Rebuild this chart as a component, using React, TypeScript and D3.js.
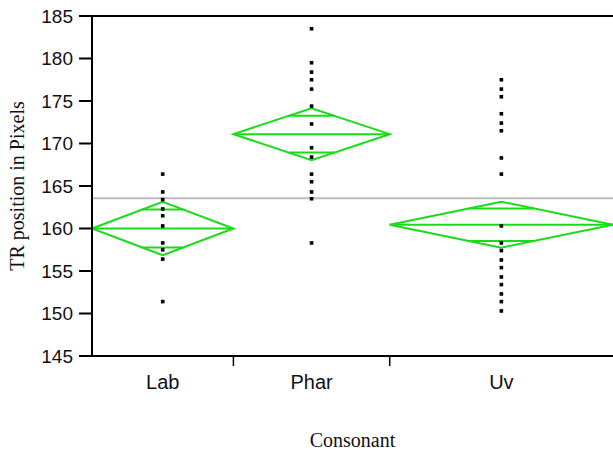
import React from 'react';
import * as d3 from 'd3';

// groups, sample sizes (set the column widths) and diamond stats
const categories = ['Lab', 'Phar', 'Uv'];
const groupN = [19, 21, 30];
const groupMeans = [160.0, 171.1, 160.45];
const ciHalf = [3.15, 3.05, 2.7];
const grandMean = 163.55;

const labPoints = [166.4, 164.3, 163.4, 162.3, 161.5, 160.3, 158.3, 157.5, 156.4, 151.4];
const pharPoints = [183.5, 179.5, 178.4, 177.5, 176.4, 174.4, 172.3, 169.5, 168.4, 166.4, 165.5, 164.3, 163.5, 158.3];
const uvPoints = [177.5, 176.4, 175.5, 173.5, 172.4, 171.5, 168.3, 166.4, 160.3, 158.3, 157.4, 156.3, 155.4, 154.3, 153.4, 152.3, 151.4, 150.3];
const groupPoints = [labPoints, pharPoints, uvPoints];

const yTicks = [145, 150, 155, 160, 165, 170, 175, 180, 185];

const W = 613;
const H = 455;
const margin = { top: 16, right: 0, bottom: 99, left: 92 };
const green = '#19dc19';
const sans = '"Liberation Sans", Arial, Helvetica, sans-serif';
const serif = '"Liberation Serif", "Times New Roman", serif';

const App: React.FC = () => {
  const y = d3.scaleLinear().domain([145, 185]).range([H - margin.bottom, margin.top]);
  const total = d3.sum(groupN);
  const x = d3.scaleLinear().domain([0, total]).range([margin.left, W - margin.right]);
  const cum = [0, ...d3.cumsum(groupN)];

  const groups = categories.map((c, i) => {
    const x0 = x(cum[i]);
    const x1 = x(cum[i + 1]);
    const cx = (x0 + x1) / 2;
    const m = groupMeans[i];
    const ci = ciHalf[i];
    const half = (x1 - x0) / 2;
    const off = ci / Math.SQRT2;
    // overlap marks sit where the diamond edges cross mean +- ci/sqrt2
    const ow = half * (1 - off / ci);
    return { c, x0, x1, cx, m, ci, half, off, ow, pts: groupPoints[i] };
  });

  const x0 = margin.left;
  const y0 = H - margin.bottom;
  const yTop = margin.top;

  return (
    <div style={{ position: 'absolute', left: 0, top: 0 }}>
      <svg width={W} height={H} style={{ display: 'block', background: '#fff' }}>
        {/* grand mean */}
        <line x1={x0} x2={W} y1={y(grandMean)} y2={y(grandMean)} stroke="#bdbdbd" strokeWidth={2} />

        {groups.map((g) => (
          <g key={g.c} fill="none" stroke={green} strokeWidth={2}>
            <polygon
              points={[
                [g.x0, y(g.m)],
                [g.cx, y(g.m + g.ci)],
                [g.x1, y(g.m)],
                [g.cx, y(g.m - g.ci)],
              ]
                .map((p) => p.join(','))
                .join(' ')}
            />
            <line x1={g.x0} x2={g.x1} y1={y(g.m)} y2={y(g.m)} />
            <line x1={g.cx - g.ow} x2={g.cx + g.ow} y1={y(g.m + g.off)} y2={y(g.m + g.off)} />
            <line x1={g.cx - g.ow} x2={g.cx + g.ow} y1={y(g.m - g.off)} y2={y(g.m - g.off)} />
          </g>
        ))}

        {groups.map((g) =>
          g.pts.map((v, j) => (
            <rect key={g.c + j} x={g.cx - 1.8} y={y(v) - 1.8} width={3.6} height={3.6} fill="#000" />
          ))
        )}

        {/* frame */}
        <line x1={x0} x2={W} y1={yTop} y2={yTop} stroke="#000" strokeWidth={2} />
        <line x1={x0} x2={W} y1={y0} y2={y0} stroke="#000" strokeWidth={2} />
        <line x1={x0} x2={x0} y1={yTop - 1} y2={y0 + 1} stroke="#000" strokeWidth={2} />

        {yTicks.map((t) => (
          <g key={t}>
            <line x1={x0 - 13} x2={x0} y1={y(t)} y2={y(t)} stroke="#000" strokeWidth={2} />
            <text x={x0 - 19} y={y(t)} dy="0.36em" textAnchor="end" fontFamily={sans} fontSize={19} fill="#111">
              {t}
            </text>
          </g>
        ))}

        {cum.slice(1, -1).map((c) => (
          <line key={c} x1={x(c)} x2={x(c)} y1={y0} y2={y0 + 10} stroke="#000" strokeWidth={1.5} />
        ))}

        {groups.map((g) => (
          <text key={g.c} x={g.cx} y={389} textAnchor="middle" fontFamily={sans} fontSize={20} fill="#111">
            {g.c}
          </text>
        ))}

        <text x={(x0 + W) / 2} y={447} textAnchor="middle" fontFamily={serif} fontSize={20} fill="#111">
          Consonant
        </text>
        <text
          transform={`translate(24,${(yTop + y0) / 2}) rotate(-90)`}
          textAnchor="middle"
          fontFamily={serif}
          fontSize={20}
          fill="#111"
        >
          TR position in Pixels
        </text>
      </svg>
    </div>
  );
};

export default App;
